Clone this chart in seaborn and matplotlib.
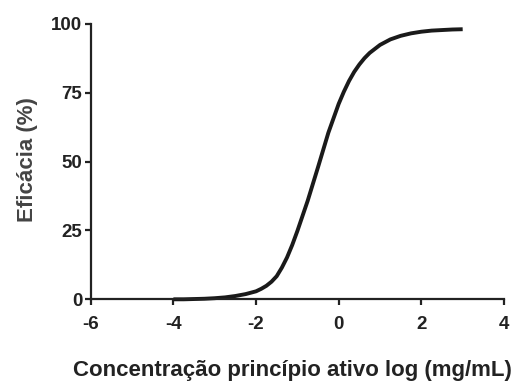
import matplotlib
matplotlib.use("Agg")
import matplotlib.pyplot as plt
import seaborn as sns
import pandas as pd

# Values
log_conc = [-4.0, -3.75, -3.5, -3.25, -3.0, -2.75, -2.5, -2.25, -2.0, -1.875,
            -1.75, -1.625, -1.5, -1.375, -1.25, -1.125, -1.0, -0.75, -0.5, -0.25,
            0.0, 0.125, 0.25, 0.375, 0.5, 0.625, 0.75, 1.0, 1.25, 1.5,
            1.75, 2.0, 2.25, 2.5, 2.75, 3.0]
eficacia = [0.0, 0.0, 0.1, 0.2, 0.4, 0.7, 1.2, 1.9, 2.9, 3.8,
            4.9, 6.4, 8.4, 11.5, 15.2, 19.7, 24.8, 35.8, 48.0, 60.5,
            71.0, 75.4, 79.3, 82.6, 85.3, 87.6, 89.5, 92.4, 94.4, 95.7,
            96.6, 97.2, 97.6, 97.8, 98.0, 98.1]
x_ticks = [-6, -4, -2, 0, 2, 4]
y_ticks = [0, 25, 50, 75, 100]
x_label = "Concentração princípio ativo log (mg/mL)"
y_label = "Eficácia (%)"

sns.set_style("ticks")
plt.rcParams["font.family"] = ["Liberation Sans", "DejaVu Sans"]
plt.rcParams["font.weight"] = "bold"

df = pd.DataFrame({"x": log_conc, "y": eficacia})

fig = plt.figure(figsize=(5.25, 3.87), dpi=100)
ax = fig.add_axes([0.1728, 0.2266, 0.7872, 0.7114])

sns.lineplot(data=df, x="x", y="y", ax=ax, color="#1a1a1a", linewidth=2.8)
for l in ax.lines:
    l.set_clip_on(False)
    l.set_solid_capstyle("butt")
    l.set_solid_joinstyle("round")

ax.set_xlim(-6, 4)
ax.set_ylim(0, 100)
ax.set_xticks(x_ticks)
ax.set_yticks(y_ticks)
ax.set_xticklabels([str(t) for t in x_ticks], fontsize=13.5, fontweight="bold", color="#222222")
ax.set_yticklabels([str(t) for t in y_ticks], fontsize=13.5, fontweight="bold", color="#222222")

for s in ["top", "right"]:
    ax.spines[s].set_visible(False)
for s in ["left", "bottom"]:
    ax.spines[s].set_linewidth(1.6)
    ax.spines[s].set_color("#222222")
ax.tick_params(axis="both", length=4, width=1.6, color="#222222")
ax.tick_params(axis="x", pad=8)
ax.tick_params(axis="y", pad=2)

ax.set_xlabel(x_label, fontsize=16, fontweight="bold", color="#222222", va="center", ha="center")
ax.set_ylabel(y_label, fontsize=16, fontweight="bold", color="#444444", va="center", ha="center")
ax.xaxis.set_label_coords(0.487, -0.26)
ax.yaxis.set_label_coords(-0.154, 0.506)

fig.savefig("out.png", dpi=100)
